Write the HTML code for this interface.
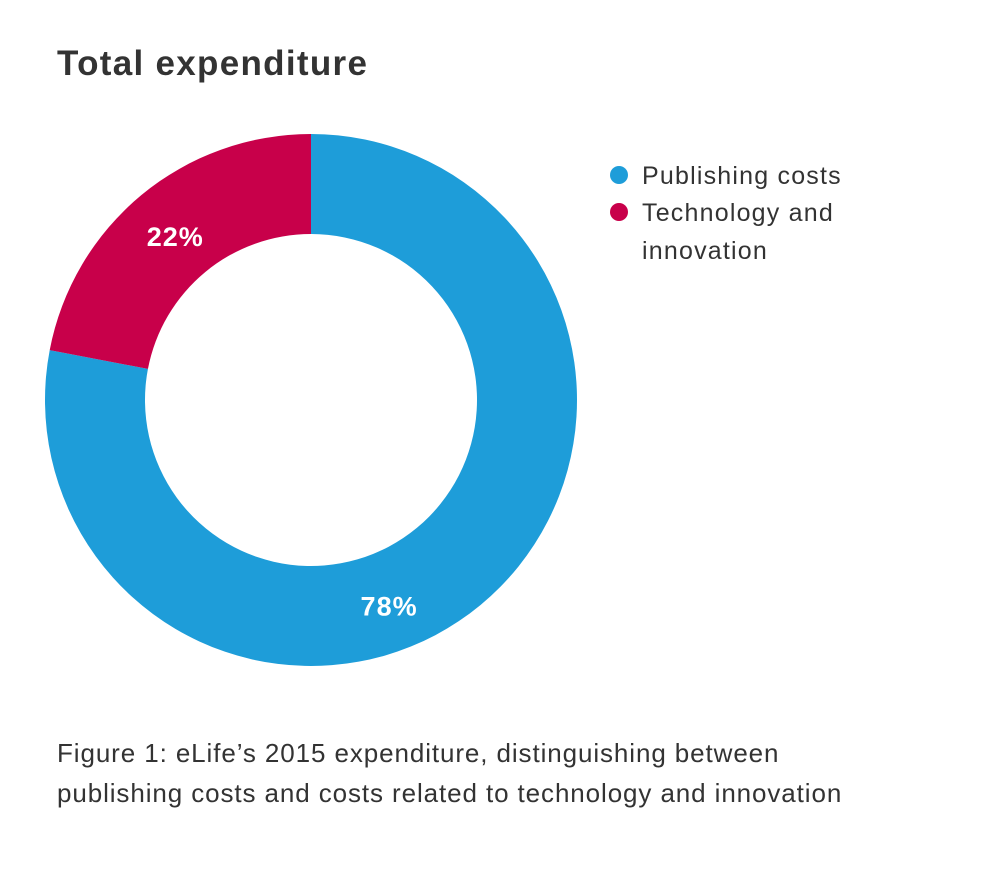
<!DOCTYPE html>
<html><head><meta charset="utf-8">
<style>
html,body{margin:0;padding:0;background:#fff;}
body{width:993px;height:871px;position:relative;overflow:hidden;font-family:"Liberation Sans",sans-serif;color:#333;}
#title{position:absolute;left:57px;top:44px;font-size:35px;font-weight:bold;color:#333;margin:0;letter-spacing:1.3px;}
.cap{position:absolute;left:57px;font-size:26px;color:#333;letter-spacing:0.9px;}
</style></head>
<body>
<h1 id="title">Total expenditure</h1>
<svg id="chart" width="993" height="871" style="position:absolute;left:0;top:0"></svg>
<div class="cap" style="top:738px">Figure 1: eLife’s 2015 expenditure, distinguishing between</div>
<div class="cap" style="top:778px">publishing costs and costs related to technology and innovation</div>
<script>
const categories = ["Publishing costs", "Technology and innovation"];
const values = [78, 22];
const labels = ["78%", "22%"];
const colors = ["#1e9dd9", "#c8004a"];
const svg = document.getElementById('chart');
const NS = 'http://www.w3.org/2000/svg';
const cx = 311, cy = 400, R = 266, r = 166;
const total = values.reduce((a,b)=>a+b,0);
function pt(a, rad){ return [cx + rad*Math.sin(a), cy - rad*Math.cos(a)]; }
let start = 0;
values.forEach((v,i)=>{
  const sweep = v/total*2*Math.PI;
  const end = start + sweep;
  const large = sweep > Math.PI ? 1 : 0;
  const [x1,y1]=pt(start,R),[x2,y2]=pt(end,R),[x3,y3]=pt(end,r),[x4,y4]=pt(start,r);
  const p = document.createElementNS(NS,'path');
  p.setAttribute('d',`M${x1},${y1} A${R},${R} 0 ${large} 1 ${x2},${y2} L${x3},${y3} A${r},${r} 0 ${large} 0 ${x4},${y4} Z`);
  p.setAttribute('fill',colors[i]);
  
  
  svg.appendChild(p);
  const lr = i===0 ? 220 : 213;
  const ang = i===0 ? start + sweep*0.567 : start + sweep/2;
  const [lx,ly] = pt(ang, lr);
  const t = document.createElementNS(NS,'text');
  t.setAttribute('x',lx); t.setAttribute('y',ly+10);
  t.setAttribute('text-anchor','middle');
  t.setAttribute('fill','#fff');
  t.setAttribute('font-size','27');
  t.setAttribute('letter-spacing','1');
  t.setAttribute('font-weight','bold');
  t.setAttribute('font-family','Liberation Sans, sans-serif');
  t.textContent = labels[i];
  
  
  svg.appendChild(t);
  start = end;
});
const legendLines = [["Publishing costs"],["Technology and","innovation"]];
let ly = 175;
legendLines.forEach((lines,i)=>{
  const c = document.createElementNS(NS,'circle');
  c.setAttribute('cx',619); c.setAttribute('cy',ly); c.setAttribute('r',9);
  c.setAttribute('fill',colors[i]);
  
  
  svg.appendChild(c);
  lines.forEach((s,j)=>{
    const t = document.createElementNS(NS,'text');
    t.setAttribute('x',642); t.setAttribute('y',ly+9+j*38);
    t.setAttribute('font-size','25');
    t.setAttribute('letter-spacing','1.2');
    t.setAttribute('fill','#333');
    t.setAttribute('font-family','Liberation Sans, sans-serif');
    t.textContent = s;
    
    
    svg.appendChild(t);
  });
  ly += 37;
});
</script>
</body></html>
